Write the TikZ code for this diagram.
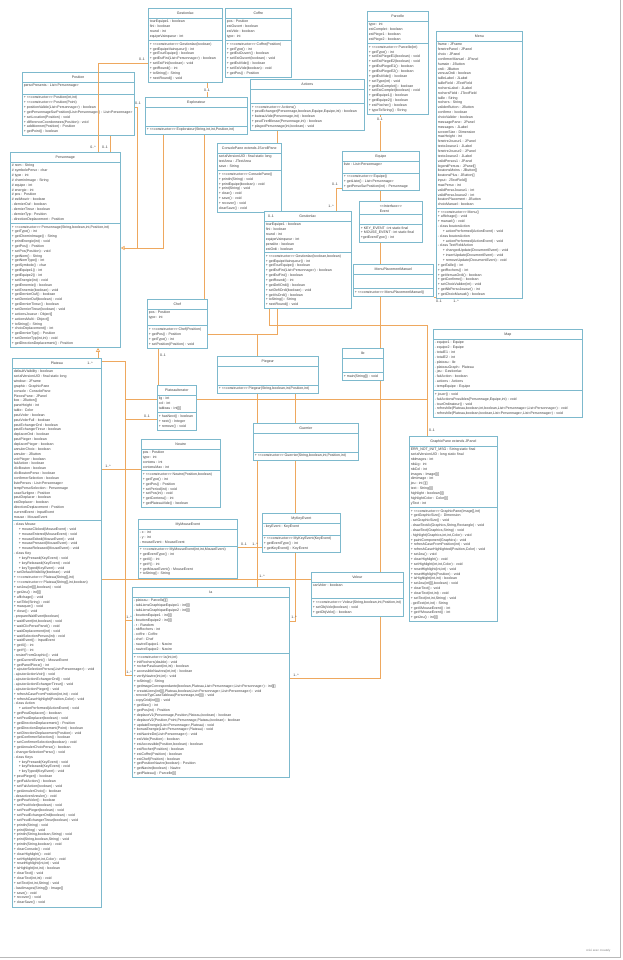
\documentclass[tikz,border=0pt]{standalone}
\usepackage{fontspec}
\setmainfont{Liberation Sans}[Ligatures=TeXOff]
\usetikzlibrary{shapes.multipart,arrows.meta}

\definecolor{cadre}{RGB}{125,185,205}
\definecolor{lienorange}{RGB}{238,168,95}
\definecolor{texte}{RGB}{60,60,60}
\pgfdeclarelayer{fond}
\pgfsetlayers{fond,main}
\newcommand\ctor{+ <<constructor>>}
\newcommand\retrait{\hspace*{5pt}}
\newcommand\haut{\rule[-1pt]{0pt}{5pt}}

\begin{document}
\begin{tikzpicture}[x=1pt,y=-1pt,
    classe/.style={rectangle split, rectangle split parts=3,
      rectangle split part align={center,left,left},
      draw=cadre, line width=0.6pt, fill=white, anchor=north west,
      inner xsep=1.5pt, inner ysep=2pt, text=texte, align=left,
      font=\fontsize{3.55}{4.85}\selectfont},
    lien/.style={draw=lienorange, line width=0.7pt},
    herite/.style={-{Triangle[open,length=4pt,width=4pt]}},
    mult/.style={font=\fontsize{3.5}{4}\selectfont, text=texte, inner sep=0.3pt}]

\useasboundingbox (0,0) rectangle (622,960);

% classes du haut
\node[classe, minimum width=74pt] (gestionA) at (148,8) {\haut Gestionlac
  \nodepart{two} tourEquipe1 : boolean\\ fini : boolean\\ round : int\\ equipeVainqueur : int
  \nodepart{three} \ctor{} Gestionlac(boolean)\\ + getEquipeVainqueur() : int\\ + getTourEquipe() : boolean\\
  + getEstFini(List<Personnage>) : boolean\\ + setEstFini(boolean) : void\\ + getRound() : int\\
  + toString() : String\\ + nextRound() : void};
\node[classe, minimum width=66pt] (coffre) at (225,8) {\haut Coffre
  \nodepart{two} pos : Position\\ estOuvert : boolean\\ estVide : boolean\\ type : int
  \nodepart{three} \ctor{} Coffre(Position)\\ + getType() : int\\ + getEstOuvert() : boolean\\
  + setEstOuvert(boolean) : void\\ + getEstVide() : boolean\\ + setEstVide(boolean) : void\\ + getPos() : Position};
\node[classe, minimum width=61pt] (parcelle) at (367,11) {\haut Parcelle
  \nodepart{two} type : int\\ estComplet : boolean\\ estPiege1 : boolean\\ estPiege2 : boolean
  \nodepart{three} \ctor{} Parcelle(int)\\ + getType() : int\\ + setEstPiegeE1(boolean) : void\\
  + setEstPiegeE2(boolean) : void\\ + getEstPiegeE1() : boolean\\ + getEstPiegeE2() : boolean\\
  + getEstVide() : boolean\\ + setType(int) : void\\ + getEstComplet() : boolean\\
  + setEstComplet(boolean) : void\\ + getEquipe1() : boolean\\ + getEquipe2() : boolean\\
  + estPiocher() : boolean\\ + typeToString() : String};
\node[classe, minimum width=86pt] (menu) at (436,31) {\haut Menu
  \nodepart{two} frame : JFrame\\ fenetrePanel : JPanel\\ choix : JPanel\\ confirmerManuel : JPanel\\
  humain : JButton\\ ordi : JButton\\ versusOrdi : boolean\\ tailleLabel : JLabel\\ tailleField : JTextField\\
  rochersLabel : JLabel\\ rochersField : JTextField\\ taille : String\\ rochers : String\\
  validerButton : JButton\\ confirme : boolean\\ choixValider : boolean\\ messagePane : JPanel\\
  messages : JLabel\\ screenSize : Dimension\\ maxHeight : int\\ fenetreJoueur1 : JPanel\\
  texteJoueur1 : JLabel\\ fenetreJoueur2 : JPanel\\ texteJoueur2 : JLabel\\ validPersos1 : JPanel\\
  legendPersos : JPanel[]\\ boutonsMoins : JButton[]\\ boutonsPlus : JButton[]\\ input : JTextField[]\\
  maxPerso : int\\ validPersoJoueur1 : int\\ validPersoJoueur2 : int\\ boutonPlacement : JButton\\
  choixManuel : boolean
  \nodepart{three} \ctor{} Menu()\\ + affichage() : void\\ + manuel() : void\\ - class boutonAction\\
  \retrait + actionPerformed(ActionEvent) : void\\ - class boutonAction\\
  \retrait + actionPerformed(ActionEvent) : void\\ - class TextFieldAction\\
  \retrait + changedUpdate(DocumentEvent) : void\\ \retrait + insertUpdate(DocumentEvent) : void\\
  \retrait + removeUpdate(DocumentEvent) : void\\ + getTaille() : int\\ + getRochers() : int\\
  + getVersusOrdi() : boolean\\ + getConfirme() : boolean\\ + setChoixValider(int) : void\\
  + getNbPersoJoueur() : int\\ + getChoixManuel() : boolean};
\node[classe, minimum width=110pt] (position) at (22,72) {\haut Position
  \nodepart{two} persoPresents : List<Personnage>\\~
  \nodepart{three} \ctor{} Position(int,int)\\ \ctor{} Position(Point)\\
  + positionValide(List<Personnage>) : boolean\\
  + getPersonnageSurPosition(List<Personnage>) : List<Personnage>\\ + setLocation(Position) : void\\
  + differenceCoordonnees(Position) : void\\ + additionner(Position) : Position\\ + getPoint() : boolean};
\node[classe, minimum width=102pt] (explorateur) at (145,97) {\haut Explorateur
  \nodepart{two} ~\\~\\~\\~
  \nodepart{three} \ctor{} Explorateur(String,int,int,Position,int)};
\node[classe, minimum width=114pt] (actions) at (250,79) {\haut Actions
  \nodepart{two} ~\\~\\~
  \nodepart{three} \ctor{} Actions()\\ + peutEchanger(Personnage,boolean,Equipe,Equipe,int) : boolean\\
  + bateauVide(Personnage,int) : boolean\\ + peutTirerBlesse(Personnage,int) : boolean\\
  + plagedPersonnage(int,boolean) : void};

% partie centrale
\node[classe, minimum width=110pt] (personnage) at (10,152) {\haut Personnage
  \nodepart{two} \# nom : String\\ \# symbolePerso : char\\ \# type : int\\ \# cheminImage : String\\
  \# equipe : int\\ \# energie : int\\ \# pos : Position\\ \# estMourir : boolean\\
  - dernierOuf : boolean\\ - dernierTireur : boolean\\ - dernierTyp : Position\\ - directionDeplacement : Position
  \nodepart{three} \ctor{} Personnage(String,boolean,int,Position,int)\\ + getType() : int\\
  + getCheminImage() : String\\ + printEnergie(int) : void\\ + getPos() : Position\\ + setPos(Position) : void\\
  + getNom() : String\\ + getNomType() : int\\ + getSymbole() : char\\ + getEquipe1() : int\\
  + getEquipe2() : int\\ + setEnergie(int) : void\\ + getEnnemie() : boolean\\ + setEnnemie(boolean) : void\\
  + getDernierOuf() : boolean\\ + setDernierOuf(boolean) : void\\ + getDernierTireur() : boolean\\
  + setDernierTireur(boolean) : void\\ + actionsJoueur : Object[]\\ + actionsMulti : Object[]\\
  + toString() : String\\ + choixDeplacement() : int\\ + getDernierTyp() : Position\\
  + setDernierTyp(int,int) : void\\ + getDirectionDeplacement() : Position};
\node[classe, minimum width=64pt] (consolePane) at (217,143) {\haut ConsolePane extends JScrollPane
  \nodepart{two} serialVersionUID : final static long\\ textArea : JTextArea\\ save : String
  \nodepart{three} \ctor{} ConsolePane()\\ + println(String) : void\\ + printEquipe(boolean) : void\\
  + print(String) : void\\ + clear() : void\\ + save() : void\\ + recover() : void\\ clearSave() : void};
\node[classe, minimum width=77pt] (equipe) at (342,151) {\haut Equipe
  \nodepart{two} liste : List<Personnage>\\~
  \nodepart{three} \ctor{} Equipe()\\ + getListe() : List<Personnage>\\ + getPersoSurPosition(int) : Personnage};
\node[classe, minimum width=63pt] (event) at (359,201) {\haut <<Interface>>\\ Event
  \nodepart{two} ~\\~
  \nodepart{three} + KEY\_EVENT : int static final\\ + MOUSE\_EVENT : int static final\\ +getEventType() : int};
\node[classe, minimum width=87pt] (gestionB) at (264,211) {\haut Gestionlac
  \nodepart{two} tourEquipe1 : boolean\\ fini : boolean\\ round : int\\ equipeVainqueur : int\\
  penalite : boolean\\ estOrdi : boolean
  \nodepart{three} \ctor{} Gestionlac(boolean,boolean)\\ + getEquipeVainqueur() : int\\
  + getTourEquipe() : boolean\\ + getEstFini(List<Personnage>) : boolean\\ + getEstFini() : boolean\\
  + getRound() : int\\ + getDefiOrdi() : boolean\\ + setDefiOrdi(boolean) : void\\ + getVsOrdi() : boolean\\
  + toString() : String\\ + nextRound() : void};
\node[classe, minimum width=80pt] (menuPlacement) at (353,264) {\haut MenuPlacementManuel
  \nodepart{two} ~\\~\\~
  \nodepart{three} \ctor{} MenuPlacementManuel()};
\node[classe, minimum width=60pt] (chef) at (147,299) {\haut Chef
  \nodepart{two} pos : Position\\ type : int\\~
  \nodepart{three} \ctor{} Chef(Position)\\ + getPos() : Position\\ + getType() : int\\
  + setPosition(Position) : void};
\node[classe, minimum width=101pt] (piegeur) at (217,356) {\haut Piegeur
  \nodepart{two} ~\\~\\~\\~
  \nodepart{three} \ctor{} Piegeur(String,boolean,int,Position,int)};
\node[classe, minimum width=41pt] (ile) at (342,348) {\haut Ile
  \nodepart{two} ~\\~\\~
  \nodepart{three} + main(String[]) : void};
\node[classe, minimum width=149pt] (map) at (433,329) {\haut Map
  \nodepart{two} - equipe1 : Equipe\\ - equipe2 : Equipe\\ - totalE1 : int\\ - totalE2 : int\\
  - plateau : Ile\\ - plateauGraph : Plateau\\ - jeu : Gestionlac\\ - faitAction : boolean\\
  - actions : Actions\\ - tempEquipe : Equipe
  \nodepart{three} + jouer() : void\\ - faitActionsPossibles(Personnage,Equipe,int) : void\\
  - tourOrdinateur() : void\\
  - refreshIle(Plateau,boolean,int,boolean,List<Personnage>,List<Personnage>) : void\\
  - refreshIle(Plateau,boolean,boolean,List<Personnage>,List<Personnage>) : void};

% partie basse
\node[classe, minimum width=89pt] (plateau) at (12,358) {\haut Plateau
  \nodepart{two} defaultVisibility : boolean\\ serialVersionUID : final static long\\ window : JFrame\\
  graphic : GraphicPane\\ console : ConsolePane\\ PiecesPane : JPanel\\ box : JButton[]\\
  paneHeight : int\\ table : Color\\ peutVoler : boolean\\ peutVolerFull : boolean\\
  peutEchangerOrd : boolean\\ peutEchangerTireur : boolean\\ deplacerOrd : boolean\\ peutPieger : boolean\\
  deplacerPieger : boolean\\ annulerChoix : boolean\\ annuler : JButton\\ voirPieger : boolean\\
  faitAction : boolean\\ clicBouton : boolean\\ clicBoutonPerso : boolean\\ confirmerSelection : boolean\\
  listePersos : List<Personnage>\\ tempPersoSelection : Personnage\\ caseSurligne : Position\\
  peutDeplacer : boolean\\ estDeplacer : boolean\\ directionDeplacement : Position\\
  currentEvent : InputEvent\\ mouse : MouseEvent
  \nodepart{three} - class Mouse\\ \retrait + mouseClicked(MouseEvent) : void\\
  \retrait + mouseEntered(MouseEvent) : void\\ \retrait + mouseExited(MouseEvent) : void\\
  \retrait + mousePressed(MouseEvent) : void\\ \retrait + mouseReleased(MouseEvent) : void\\
  - class Key\\ \retrait + keyPressed(KeyEvent) : void\\ \retrait + keyReleased(KeyEvent) : void\\
  \retrait + keyTyped(KeyEvent) : void\\ + setDefaultVisibility(boolean) : void\\
  \ctor{} Plateau(String[],int)\\ \ctor{} Plateau(String[],int,boolean)\\
  + setJeu(int[][],boolean) : void\\ + getJeu() : int[][]\\ + affichage() : void\\
  + setTitle(String) : void\\ + masquer() : void\\ + close() : void\\ - prepareWaitEvent(boolean)\\
  + waitEvent(int,boolean) : void\\ + waitClicPersoPanel() : void\\ + waitDeplacement(int) : void\\
  + waitSelectionPersos(int) : void\\ + waitEvent() : InputEvent\\ + getX() : int\\ + getY() : int\\
  - resizeFromGraphic() : void\\ + getCurrentEvent() : MouseEvent\\ + getPanelPiece() : int\\
  + ajouterSelectionPersos(List<Personnage>) : void\\ - ajouterActionVoir() : void\\
  - ajouterActionEchangerOrd() : void\\ - ajouterActionEchangerTireur() : void\\
  - ajouterActionPieger() : void\\ + refreshCaseFromPosition(int,int) : void\\
  + refreshCaseHighlight(Position,Color) : void\\ - class Action\\
  \retrait + actionPerformed(ActionEvent) : void\\ + getPeutDeplacer() : boolean\\
  + setPeutDeplacer(boolean) : void\\ + getDirectionDeplacement() : Position\\
  + getDirectionDeplacement(Point) : boolean\\ + setDirectionDeplacement(Position) : void\\
  + getConfirmerSelection() : boolean\\ + setConfirmerSelection(boolean) : void\\
  + getAnnulerChoixPerso() : boolean\\ - changerSelectionPerso() : void\\ - class Keys\\
  \retrait + keyPressed(KeyEvent) : void\\ \retrait + keyReleased(KeyEvent) : void\\
  \retrait + keyTyped(KeyEvent) : void\\ + peutPieger() : boolean\\ + getFaitAction() : boolean\\
  + setFaitAction(boolean) : void\\ + getAnnulerChoix() : boolean\\ - desactiverAnnuler() : void\\
  + getPeutVoler() : boolean\\ + setPeutVoler(boolean) : void\\ + setPeutPieger(boolean) : void\\
  + setPeutEchangerOrd(boolean) : void\\ + setPeutEchangerTireur(boolean) : void\\
  + println(String) : void\\ + print(String) : void\\ + println(String,boolean,String) : void\\
  + print(String,boolean,String) : void\\ + println(String,boolean) : void\\ + clearConsole() : void\\
  + clearHighlight() : void\\ + setHighlight(int,int,Color) : void\\ + resetHighlight(int,int) : void\\
  + isHighlight(int,int) : boolean\\ + clearText() : void\\ + clearText(int,int) : void\\
  + setText(int,int,String) : void\\ - loadImages(String[]) : Image[]\\ + save() : void\\
  + recover() : void\\ + clearSave() : void};
\node[classe, minimum width=39pt] (plateauIt) at (157,385) {\haut PlateauIterator
  \nodepart{two} lig : int\\ col : int\\ tableau : int[][]
  \nodepart{three} + hasNext() : boolean\\ + next() : Integer\\ + remove() : void};
\node[classe, minimum width=79pt] (neutre) at (141,439) {\haut Neutre
  \nodepart{two} pos : Position\\ type : int\\ contenu : int\\ contenuMax : int
  \nodepart{three} \ctor{} Neutre(Position,boolean)\\ + getType() : int\\ + getPos() : Position\\
  + setPeriod(int) : void\\ + setPos(int) : void\\ + getContenu() : int\\ + getPlateauVide() : boolean};
\node[classe, minimum width=105pt] (guerrier) at (253,423) {\haut Guerrier
  \nodepart{two} ~\\~\\~\\~
  \nodepart{three} \ctor{} Guerrier(String,boolean,int,Position,int)};
\node[classe, minimum width=99pt] (myMouse) at (138,519) {\haut MyMouseEvent
  \nodepart{two} - x : int\\ - y : int\\ - mouseEvent : MouseEvent
  \nodepart{three} \ctor{} MyMouseEvent(int,int,MouseEvent)\\ + getEventType() : int\\ + getX() : int\\
  + getY() : int\\ + getMouseEvent() : MouseEvent\\ + toString() : String};
\node[classe, minimum width=78pt] (myKey) at (262,513) {\haut MyKeyEvent
  \nodepart{two} - keyEvent : KeyEvent\\~
  \nodepart{three} \ctor{} MyKeyEvent(KeyEvent)\\ + getEventType() : int\\ + getKeyEvent() : KeyEvent};
\node[classe, minimum width=92pt] (voleur) at (311,572) {\haut Voleur
  \nodepart{two} canVoler : boolean\\~\\~
  \nodepart{three} \ctor{} Voleur(String,boolean,int,Position,int)\\ + setObjVole(boolean) : void\\
  + getObjVole() : boolean};
\node[classe, minimum width=88pt] (graphic) at (409,436) {\haut GraphicPane extends JPanel
  \nodepart{two} ERR\_NOT\_INIT\_MSG : String static final\\ serialVersionUID : long static final\\
  nbImages : int\\ nbLig : int\\ nbCol : int\\ images : Image[][]\\ dimImage : int\\ jeu : int [][]\\
  text : String[][]\\ highlight : boolean[][]\\ highlightColor : Color[][]\\ yText : int
  \nodepart{three} \ctor{} GraphicPane(Image[],int)\\ + getGraphicSize() : Dimension\\
  - setGraphicSize() : void\\ - drawTextAt(Graphics,String,Rectangle) : void\\
  - drawText(Graphics,String) : void\\ - highlight(Graphics,int,int,Color) : void\\
  + paintComponent(Graphics) : void\\ + refreshCaseFromPosition(int) : void\\
  + refreshCaseHighlighted(Position,Color) : void\\ + setJeu() : void\\ + clearHighlight() : void\\
  + setHighlight(int,int,Color) : void\\ + resetHighlight(int,int) : void\\
  + resetHighlight(Position) : void\\ + isHighlight(int,int) : boolean\\
  + setJeu(int[][],boolean) : void\\ + clearText() : void\\ + clearText(int,int) : void\\
  + setText(int,int,String) : void\\ - getText(int,int) : String\\ + getXMouseEvent() : int\\
  + getYMouseEvent() : int\\ + getJeu() : int[][]};
\node[classe, minimum width=157pt] (ia) at (132,587) {\haut Ia
  \nodepart{two} - plateau : Parcelle[][]\\ - tabLiensGraphiqueEquipe1 : int[][]\\
  - tabLiensGraphiqueEquipe2 : int[][]\\ - bouttonEquipe1 : int[][]\\ - bouttonEquipe2 : int[][]\\
  - r : Random\\ - nbRochers : int\\ - coffre : Coffre\\ - chef : Chef\\ - navireEquipe1 : Navire\\
  - navireEquipe2 : Navire
  \nodepart{three} \ctor{} Ia(int,int)\\ + initRochers(double) : void\\ + rocherPasAvant(int,int) : boolean\\
  + accessibleNavires(int,int) : boolean\\ + verifyNavire(int,int) : void\\ + toString() : String\\
  + getImageCorrespondante(boolean,Plateau,List<Personnage>,List<Personnage>) : int[][]\\
  + createLiens(int[][],Plateau,boolean,List<Personnage>,List<Personnage>) : void\\
  - renvoieTypCaseTableau(Personnage,int[][]) : void\\ - copyGrid(int[][]) : void\\ + getSize() : int\\
  + getPos(int) : Position\\ + deplaceV1(Personnage,Position,Plateau,boolean) : boolean\\
  + deplaceV2(Position,Point,Personnage,Plateau,boolean) : boolean\\
  + updateEnergie(List<Personnage>,Plateau) : void\\ + bonusEnergie(List<Personnage>,Plateau) : void\\
  + estNavireDe(List<Personnage>) : void\\ + estVide(Position) : boolean\\
  + estAccessible(Position,boolean) : boolean\\ + estRocher(Position) : boolean\\
  + estCoffre(Position) : boolean\\ + estChef(Position) : boolean\\
  + getPositionNavire(boolean) : Position\\ + getNavire(boolean) : Navire\\ + getPlateau() : Parcelle[][]};

% liens
\begin{pgfonlayer}{fond}
  \draw[lien] (position.south -| 110,0) -- (personnage.north -| 110,0);
  \draw[lien] (gestionA.south -| 207,0) -- (explorateur.north -| 207,0);
  \draw[lien,herite] (position.east |- 0,107) -| (137,248) -- (personnage.east |- 0,248);
  \draw[lien] (explorateur.south -| 163,0) |- (137,248);
  \draw[lien] (actions.south -| 277,0) -- (consolePane.north -| 277,0);
  \draw[lien] (consolePane.south -| 269,0) -- (gestionB.north -| 269,0);
  \draw[lien] (explorateur.south -| 204,0) |- (257,334) -- (piegeur.north -| 257,0);
  \draw[lien] (gestionB.south -| 277,0) |- (257,334);
  \draw[lien] (gestionB.south -| 269,0) |- (427,325) -- (graphic.north -| 427,0);
  \draw[lien] (parcelle.south -| 380,0) -- (ile.north -| 380,0);
  \draw[lien] (ile.south -| 380,0) |- (ia.east |- 0,678);
  \draw[lien] (equipe.west |- 0,188) -| (gestionB.north -| 336,0);
  \draw[lien] (menuPlacement.east |- 0,297) -| (menu.south -| 452,0);
  \draw[lien,herite] (ia.west |- 0,675) -| (125,361) -| (personnage.south -| 98,0);
  \draw[lien] (125,399) -- (427,399);
  \draw[lien] (125,419) -- (plateauIt.west |- 0,419);
  \draw[lien] (125,620) -- (ia.west |- 0,620);
  \draw[lien] (chef.south -| 158,0) -- (plateauIt.north -| 158,0);
  \draw[lien] (plateau.east |- 0,469) -- (neutre.west |- 0,469);
  \draw[lien] (plateau.east |- 0,579) -- (voleur.west |- 0,579);
  \draw[lien] (piegeur.south -| 257,0) -- (ia.north -| 257,0);
  \draw[lien] (piegeur.south -| 295,0) |- (ia.east |- 0,621);
  \draw[lien] (myMouse.east |- 0,547) -- (myKey.west |- 0,547);
\end{pgfonlayer}
\draw[lien] (gestionA.west |- 0,63) -| (personnage.north -| 98,0);

% multiplicites
\node[mult] (m1) at (142,59) {0..1};
\node[mult] (m2) at (93,147) {0..*};
\node[mult] (m3) at (105,147) {0..1};
\node[mult] (m4) at (138,103) {0..1};
\node[mult, fill=white] (m5) at (207,90) {0..1};
\node[mult, fill=white] (m6) at (380,119) {0..1};
\node[mult] (m7) at (335,184) {0..1};
\node[mult] (m8) at (331,206) {1..*};
\node[mult] (m9) at (271,216) {0..1};
\node[mult] (m10) at (439,301) {0..1};
\node[mult] (m11) at (456,301) {1..*};
\node[mult] (m12) at (163,355) {0..1};
\node[mult] (m13) at (90,363) {1..*};
\node[mult] (m14) at (147,416) {0..1};
\node[mult] (m15) at (108,466) {1..*};
\node[mult] (m16) at (129,617) {1..*};
\node[mult] (m17) at (129,672) {1..*};
\node[mult] (m18) at (262,576) {1..*};
\node[mult] (m19) at (294,617) {1..*};
\node[mult] (m20) at (296,675) {1..*};
\node[mult] (m21) at (244,544) {0..1};
\node[mult] (m22) at (255,544) {1..*};
\node[mult] (m23) at (432,430) {0..1};

% cadre de la page
\draw[gray!55, line width=0.8pt] (620.5,0) -- (620.5,957.5) -- (0,957.5);
\node[font=\fontsize{3}{3}\selectfont, text=gray, anchor=east] (filigrane) at (614,951) {créé avec creately};
\end{tikzpicture}
\end{document}
